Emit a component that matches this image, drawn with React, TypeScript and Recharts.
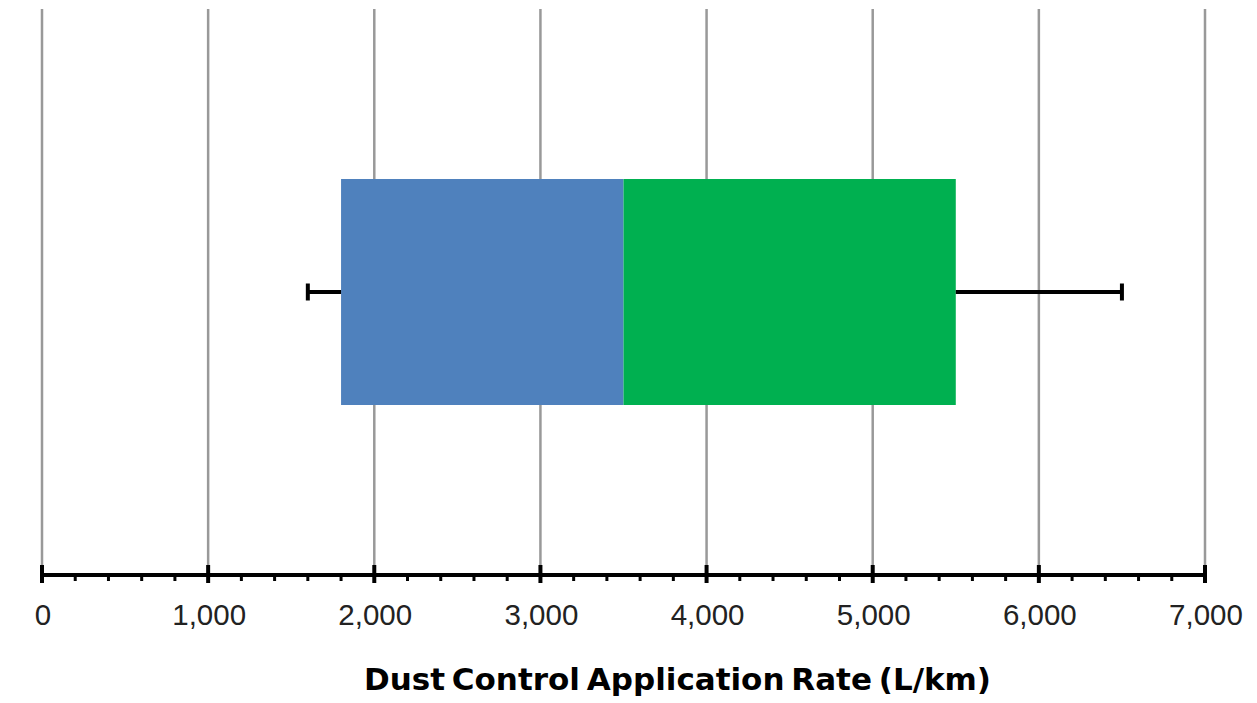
import React from 'react';
import { ComposedChart, Bar, XAxis, YAxis, CartesianGrid, ReferenceLine } from 'recharts';

const categories = ['Application Rate'];
const whiskerLow = [1600];
const quartile1 = [1800];
const medians = [3500];
const quartile3 = [5500];
const whiskerHigh = [6500];

const majorTicks = [0, 1000, 2000, 3000, 4000, 5000, 6000, 7000];
const allTicks = [
  0, 200, 400, 600, 800, 1000, 1200, 1400, 1600, 1800, 2000, 2200, 2400, 2600, 2800,
  3000, 3200, 3400, 3600, 3800, 4000, 4200, 4400, 4600, 4800, 5000, 5200, 5400, 5600,
  5800, 6000, 6200, 6400, 6600, 6800, 7000,
];
const axisTitle = 'Dust Control Application Rate (L/km)';

const data = categories.map((name, i) => ({
  name,
  base: quartile1[i],
  lowerBox: medians[i] - quartile1[i],
  upperBox: quartile3[i] - medians[i],
}));

const FONT = '"Liberation Sans", Arial, Helvetica, sans-serif';

const AxisTick = (props: any) => {
  const { x, y, payload } = props;
  const v = payload.value;
  const isMajor = majorTicks.includes(v);
  return (
    <g>
      {isMajor ? (
        <line x1={x} x2={x} y1={y - 10} y2={y + 8} stroke="#000" strokeWidth={4} />
      ) : (
        <line x1={x} x2={x} y1={y} y2={y + 6} stroke="#000" strokeWidth={3} />
      )}
      {isMajor && (
        <text x={x + 1} y={y + 50} textAnchor="middle" fontSize={29.5} fill="#222" fontFamily={FONT}>
          {v.toLocaleString('en-US')}
        </text>
      )}
    </g>
  );
};

const whiskerShape = (capAt: 'start' | 'end') => (p: any) => {
  const cx = capAt === 'start' ? p.x1 : p.x2;
  return (
    <g>
      <line x1={p.x1} y1={p.y1} x2={p.x2} y2={p.y2} stroke="#000" strokeWidth={4} />
      <line x1={cx} x2={cx} y1={p.y1 - 8.5} y2={p.y1 + 8.5} stroke="#000" strokeWidth={4} />
    </g>
  );
};

const gridGenerator = (props: any) => {
  const scale = props?.xAxis?.scale;
  if (typeof scale === 'function') return majorTicks.map((v) => scale(v));
  if (scale && typeof scale.map === 'function') return majorTicks.map((v) => scale.map(v));
  if (scale && typeof scale.apply === 'function') return majorTicks.map((v) => scale.apply(v));
  const off = props.offset;
  return majorTicks.map((v) => off.left + (v / 7000) * off.width);
};

export default function App() {
  return (
    <div style={{ width: 1249, height: 695 }}>
      <ComposedChart
        width={1249}
        height={695}
        data={data}
        layout="vertical"
        margin={{ top: 1, right: 52, left: 34, bottom: 0 }}
      >
        <CartesianGrid
          horizontal={false}
          stroke="#999"
          strokeWidth={2.5}
          verticalCoordinatesGenerator={gridGenerator}
        />
        <XAxis
          type="number"
          domain={[0, 7000]}
          ticks={allTicks}
          interval={0}
          tickLine={false}
          tickSize={0}
          tickMargin={0}
          height={128}
          axisLine={{ stroke: '#000', strokeWidth: 4 }}
          tick={<AxisTick />}
          label={{
            value: axisTitle,
            position: 'insideBottom',
            offset: 13,
            dx: 54,
            style: {
              fontFamily: '"DejaVu Sans", sans-serif',
              fontWeight: 'bold',
              fontSize: 31,
              fill: '#000',
              wordSpacing: -4,
              letterSpacing: 0,
            },
          }}
        />
        <YAxis type="category" dataKey="name" hide />
        <Bar dataKey="base" stackId="box" fill="none" barSize={226} isAnimationActive={false} />
        <Bar dataKey="lowerBox" stackId="box" fill="#4F81BD" barSize={226} isAnimationActive={false} />
        <Bar dataKey="upperBox" stackId="box" fill="#00B050" barSize={226} isAnimationActive={false} />
        <ReferenceLine
          segment={[{ x: whiskerLow[0], y: categories[0] }, { x: quartile1[0], y: categories[0] }]}
          shape={whiskerShape('start')}
        />
        <ReferenceLine
          segment={[{ x: quartile3[0], y: categories[0] }, { x: whiskerHigh[0], y: categories[0] }]}
          shape={whiskerShape('end')}
        />
      </ComposedChart>
    </div>
  );
}
